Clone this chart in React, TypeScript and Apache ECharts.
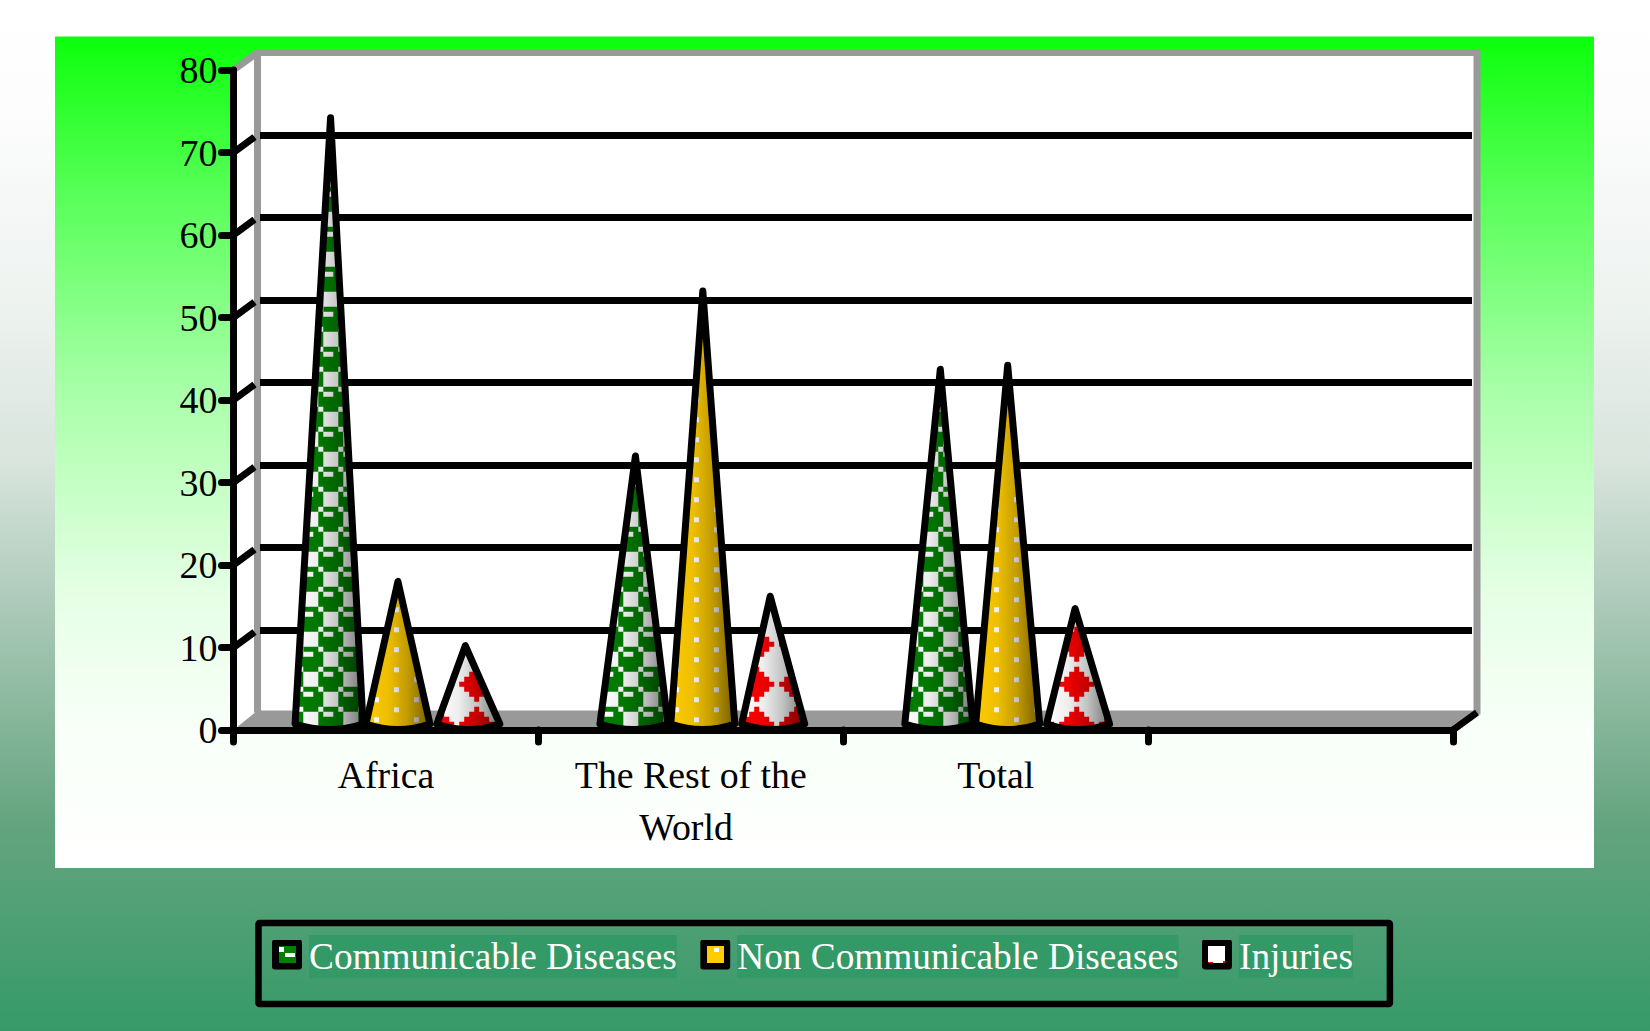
import React, { useEffect, useRef } from "react";
import * as echarts from "echarts";

const categories = ["Africa", "The Rest of the World", "Total", ""];
const seriesNames = ["Communicable Diseases", "Non Communicable Diseases", "Injuries"];
const communicable = [73, 32, 42.5];
const nonCommunicable = [16.8, 52, 43];
const injuries = [9, 15, 13.5];
const wallTicks = [10, 20, 30, 40, 50, 60, 70];

const FONT = "'Liberation Serif', 'Times New Roman', serif";
const DX = 24;
const DY = 17.5;
const LW = 7;

const shade = (hex: string, f: number) => {
  const n = parseInt(hex.slice(1), 16);
  const c = [(n >> 16) & 255, (n >> 8) & 255, n & 255].map((v) => Math.round(v * f));
  return `rgb(${c[0]},${c[1]},${c[2]})`;
};
const sweep = (hex: string, x0: number, x1: number) =>
  new echarts.graphic.LinearGradient(
    x0, 0, x1, 0,
    [
      { offset: 0, color: shade(hex, 1) },
      { offset: 0.35, color: shade(hex, 0.93) },
      { offset: 0.65, color: shade(hex, 0.76) },
      { offset: 1, color: shade(hex, 0.46) },
    ],
    true
  );

const rect = (x: number, y: number, w: number, h: number) =>
  `M${x} ${y}L${x + w} ${y}L${x + w} ${y + h}L${x} ${y + h}Z`;

const floorTo = (v: number, anchor: number, p: number) => Math.floor((v - anchor) / p);

function checkerCells(x0: number, x1: number, y0: number, y1: number) {
  const ax = 323.3, ay = 571.7, p = 20;
  let d = "";
  for (let i = floorTo(x0, ax, p) - 1; i <= floorTo(x1, ax, p) + 1; i++) {
    for (let j = floorTo(y0, ay, p) - 1; j <= floorTo(y1, ay, p) + 1; j++) {
      const x = ax + i * p, y = ay + j * p;
      d += rect(x - 5, y - 5, 5, 5);
      if (((i + j) % 2 + 2) % 2 === 0) d += rect(x, y, 15, 15);
      else d += rect(x, y, 10, 5);
    }
  }
  return d;
}
function dotCells(x0: number, x1: number, y0: number, y1: number) {
  const ax = 694, ay = 597.3, p = 20;
  let d = "";
  for (let i = floorTo(x0, ax, p) - 1; i <= floorTo(x1, ax, p) + 1; i++) {
    for (let j = floorTo(y0, ay, p) - 1; j <= floorTo(y1, ay, p) + 1; j++) {
      const off = ((i % 2) + 2) % 2 === 0 ? 0 : 10;
      d += rect(ax + i * p, ay + j * p + off, 5, 5);
    }
  }
  return d;
}
function diamondCells(x0: number, x1: number, y0: number, y1: number) {
  const ax = 1076.7, ay = 684.3, p = 40;
  const half = [2.5, 7.5, 12.5, 17.5, 12.5, 7.5, 2.5];
  let d = "";
  for (let i = floorTo(x0, ax, p) - 1; i <= floorTo(x1, ax, p) + 1; i++) {
    for (let j = floorTo(y0, ay, p) - 1; j <= floorTo(y1, ay, p) + 1; j++) {
      const cx = ax + i * p, cy = ay + j * p;
      half.forEach((h, r) => {
        d += rect(cx - h, cy - 17.5 + r * 5, h * 2, 5);
      });
    }
  }
  return d;
}

const coneStyles = [
  { base: "#008000", pattern: "#ffffff", cells: checkerCells, hw: 34, skew: -1.5 },
  { base: "#ffcc00", pattern: "#ffffff", cells: dotCells, hw: 32, skew: 0 },
  { base: "#ffffff", pattern: "#ff0000", cells: diamondCells, hw: 31.5, skew: 3 },
];

const coneRender = (idx: number) => (params: any, api: any) => {
  const cat = api.value(0);
  const val = api.value(1);
  const band = api.size([1, 0])[0];
  const cx = api.coord([cat, 0])[0] + DX / 2 + (idx - 1) * band * 0.221;
  const by = api.coord([cat, 0])[1] - 6;
  const ay = api.coord([cat, val])[1] - 10;
  const s = coneStyles[idx];
  const bx = cx + s.skew;
  const hw = s.hw;
  const sag = 5.5;
  const d = `M${cx} ${ay}L${bx - hw} ${by}Q${bx} ${by + sag * 2} ${bx + hw} ${by}Z`;
  return {
    type: "group",
    children: [
      { type: "path", shape: { pathData: d }, style: { fill: sweep(s.base, bx - hw, bx + hw) } },
      {
        type: "path",
        shape: { pathData: s.cells(bx - hw, bx + hw, ay, by + sag) },
        style: { fill: sweep(s.pattern, bx - hw, bx + hw) },
        clipPath: { type: "path", shape: { pathData: d } },
      },
      {
        type: "path",
        shape: { pathData: d },
        style: { fill: "none", stroke: "#000", lineWidth: 7, lineJoin: "round" },
      },
    ],
  };
};

const wallsRender = (params: any) => {
  const c = params.coordSys;
  const l = c.x, r = c.x + c.width, t = c.y, b = c.y + c.height;
  const gray = "#999999";
  const line = { stroke: gray, lineWidth: LW };
  return {
    type: "group",
    children: [
      { type: "polygon", shape: { points: [[l, t], [l + DX, t - DY], [l + DX, b - DY], [l, b]] }, style: { fill: "#fff" } },
      { type: "rect", shape: { x: l + DX, y: t - DY, width: c.width, height: c.height }, style: { fill: "#fff" } },
      { type: "polygon", shape: { points: [[l, b], [l + DX, b - DY - 2], [r + DX, b - DY - 2], [r, b]] }, style: { fill: gray } },
      { type: "polyline", shape: { points: [[l, t], [l + DX, t - DY], [r + DX, t - DY], [r + DX, b - DY + 2]] }, style: { ...line, fill: "none" } },
      { type: "line", shape: { x1: l + DX, y1: t - DY, x2: l + DX, y2: b - DY }, style: line },
    ],
  };
};

const wallTickRender = (params: any, api: any) => {
  const p = api.coord([0, api.value(0)]);
  const x = params.coordSys.x;
  return {
    type: "line",
    shape: { x1: x, y1: p[1], x2: x + DX - 3, y2: p[1] - DY + 2 },
    style: { stroke: "#000", lineWidth: LW },
  };
};

const cornerRender = (params: any) => {
  const c = params.coordSys;
  const r = c.x + c.width, b = c.y + c.height;
  return {
    type: "line",
    shape: { x1: r, y1: b, x2: r + DX, y2: b - DY },
    style: { stroke: "#000", lineWidth: LW },
  };
};

const icon = (inner: string, fill: string) => {
  const svg =
    `<svg xmlns="http://www.w3.org/2000/svg" width="32" height="34" viewBox="0 0 32 34" shape-rendering="crispEdges">` +
    `<rect x="0" y="0" width="30" height="30" rx="3" fill="#000" shape-rendering="auto"/>` +
    `<rect x="6.5" y="6.5" width="17" height="17" fill="${fill}"/>${inner}</svg>`;
  return "image://data:image/svg+xml;utf8," + encodeURIComponent(svg);
};
const legendIcons = [
  icon(`<rect x="7" y="7.5" width="5" height="5" fill="#fff"/><rect x="12.5" y="13" width="10" height="4.5" fill="#fff"/>`, "#008000"),
  icon(`<rect x="14" y="8" width="5" height="4.5" fill="#fff"/>`, "#ffcc00"),
  icon(`<rect x="6.5" y="22" width="5" height="1.5" fill="#f00"/><rect x="21" y="21" width="2.5" height="2.5" fill="#f00"/>`, "#ffffff"),
];

const pageGradient = new echarts.graphic.LinearGradient(0, 0, 0, 1, [
  { offset: 0, color: "#ffffff" },
  { offset: 0.1, color: "#fdfdfd" },
  { offset: 0.3, color: "#edf2ef" },
  { offset: 0.45, color: "#d8e4dd" },
  { offset: 0.6, color: "#a8c7b5" },
  { offset: 0.8, color: "#64a47f" },
  { offset: 1, color: "#369a68" },
]);
const panelGradient = new echarts.graphic.LinearGradient(0, 0, 0, 1, [
  { offset: 0, color: "#0cff0c" },
  { offset: 0.19, color: "#58ff58" },
  { offset: 0.43, color: "#aaffaa" },
  { offset: 0.67, color: "#e5ffe5" },
  { offset: 0.83, color: "#f8fff8" },
  { offset: 1, color: "#ffffff" },
]);

export default function App() {
  const ref = useRef<HTMLDivElement>(null);
  useEffect(() => {
    document.body.style.margin = "0";
    const chart = echarts.init(ref.current!, undefined, { renderer: "svg" });
    const valueSets = [communicable, nonCommunicable, injuries];
    chart.setOption({
      animation: false,
      backgroundColor: pageGradient,
      graphic: [
        {
          type: "rect",
          z: -100,
          silent: true,
          shape: { x: 55, y: 36.5, width: 1539, height: 831.5 },
          style: { fill: panelGradient },
        },
      ],
      legend: {
        left: 258.5,
        top: 923,
        orient: "horizontal",
        padding: [12, 37, 26, 13.5],
        itemWidth: 32,
        itemHeight: 34,
        itemGap: 23.5,
        selectedMode: false,
        borderColor: "#000",
        borderWidth: 6.5,
        borderRadius: 1,
        textStyle: {
          color: "#fff",
          fontFamily: FONT,
          fontSize: 37.3,
          lineHeight: 38,
          padding: [5, 0, 0, 0],
          backgroundColor: "#339966",
        },
        data: seriesNames.map((name, i) => ({ name, icon: legendIcons[i] })),
      },
      grid: [
        { left: 233.5, top: 70, width: 1219.5, height: 660 },
        { left: 260, top: 52.5, width: 1212, height: 660 },
      ],
      xAxis: [
        {
          type: "category",
          gridIndex: 0,
          data: categories,
          axisLine: { lineStyle: { color: "#000", width: LW, cap: "round" } },
          axisTick: { show: true, interval: 0, alignWithLabel: false, length: 12, lineStyle: { color: "#000", width: LW, cap: "round" } },
          axisLabel: {
            color: "#000",
            fontFamily: FONT,
            fontSize: 37.8,
            lineHeight: 52,
            margin: 19,
            interval: 0,
            formatter: (v: string) => (v === "The Rest of the World" ? "The Rest of the\nWorld " : v),
          },
        },
        { type: "value", gridIndex: 1, show: false, min: 0, max: 1 },
      ],
      yAxis: [
        {
          type: "value",
          gridIndex: 0,
          min: 0,
          max: 80,
          interval: 10,
          splitLine: { show: false },
          axisLine: { show: true, lineStyle: { color: "#000", width: LW, cap: "round" } },
          axisTick: { show: true, length: 12, lineStyle: { color: "#000", width: LW, cap: "round" } },
          axisLabel: { color: "#000", fontFamily: FONT, fontSize: 38, margin: 16 },
        },
        {
          type: "value",
          gridIndex: 1,
          min: 0,
          max: 80,
          interval: 10,
          axisLine: { show: false },
          axisTick: { show: false },
          axisLabel: { show: false },
          splitLine: { show: true, showMinLine: false, showMaxLine: false, lineStyle: { color: "#000", width: LW } },
        },
      ],
      series: [
        { name: "walls", type: "custom", z: -5, xAxisIndex: 0, yAxisIndex: 0, silent: true, data: [0], renderItem: wallsRender },
        { name: "wall ticks", type: "custom", z: 1, xAxisIndex: 0, yAxisIndex: 0, silent: true, encode: { y: 0 }, data: wallTicks.map((v) => [v]), renderItem: wallTickRender },
        { name: "corner", type: "custom", z: 1, xAxisIndex: 0, yAxisIndex: 0, silent: true, data: [0], renderItem: cornerRender },
        ...seriesNames.map((name, i) => ({
          name,
          type: "custom",
          z: 3,
          xAxisIndex: 0,
          yAxisIndex: 0,
          silent: true,
          encode: { x: 0, y: 1 },
          data: valueSets[i].map((v, c) => [c, v]),
          renderItem: coneRender(i),
        })),
      ],
    });
    return () => chart.dispose();
  }, []);
  return <div ref={ref} style={{ width: 1650, height: 1031, display: "block" }} />;
}
